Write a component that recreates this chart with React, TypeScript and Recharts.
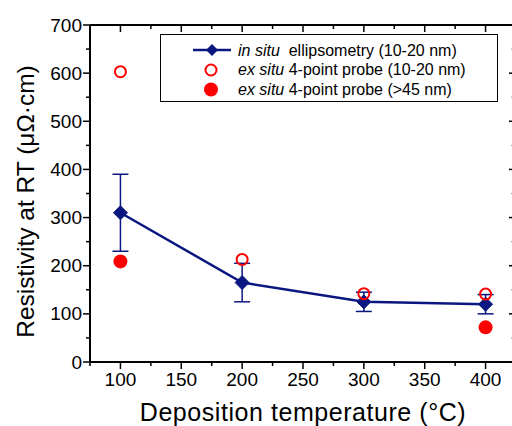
import React from "react";
import {
  ComposedChart,
  Line,
  Scatter,
  XAxis,
  YAxis,
  ErrorBar,
  Label,
} from "recharts";

// ---- data ----
const temps = [100, 200, 300, 400];
const ellipsometry = [310, 165, 125, 120];
const ellipsometryErr = [80, 40, 20, 20];
const probeThinTemps = [100, 200, 300, 400];
const probeThin = [603, 213, 142, 141];
const probeThickTemps = [100, 400];
const probeThick = [209, 72];

const xTicks = [75, 100, 125, 150, 175, 200, 225, 250, 275, 300, 325, 350, 375, 400, 425];
const yTicks = [0, 50, 100, 150, 200, 250, 300, 350, 400, 450, 500, 550, 600, 650, 700];

const legendLabels = [
  ["in situ", "  ellipsometry (10-20 nm)"],
  ["ex situ", " 4-point probe (10-20 nm)"],
  ["ex situ", " 4-point probe (>45 nm)"],
];

const lineData = temps.map((t, i) => ({ x: t, y: ellipsometry[i], err: ellipsometryErr[i] }));
const thinData = probeThinTemps.map((t, i) => ({ x: t, y: probeThin[i] }));
const thickData = probeThickTemps.map((t, i) => ({ x: t, y: probeThick[i] }));

const NAVY = "#0b1780";
const RED = "#ff0000";
const FONT = "'Liberation Sans', Arial, sans-serif";
const MAJOR = 7;
const MINOR = 4;

const BottomTick = (props: any) => {
  const { x, y, payload } = props;
  const v = payload.value;
  const major = v % 50 === 0;
  return (
    <g>
      <line x1={x} x2={x} y1={y} y2={y + (major ? MAJOR : MINOR)} stroke="#000" strokeWidth={1.5} />
      {major && v >= 100 && v <= 400 ? (
        <text x={x} y={y + 24} textAnchor="middle" fontSize={19} fontFamily={FONT} fill="#000">
          {v}
        </text>
      ) : null}
    </g>
  );
};

const TopTick = (props: any) => {
  const { x, y, payload } = props;
  const major = payload.value % 50 === 0;
  return <line x1={x} x2={x} y1={y} y2={y + (major ? MAJOR : MINOR)} stroke="#000" strokeWidth={1.5} />;
};

const LeftTick = (props: any) => {
  const { x, y, payload } = props;
  const v = payload.value;
  const major = v % 100 === 0;
  return (
    <g>
      <line x1={x - (major ? MAJOR : MINOR)} x2={x} y1={y} y2={y} stroke="#000" strokeWidth={1.5} />
      {major ? (
        <text x={x - 8} y={y + 6.5} textAnchor="end" fontSize={19} fontFamily={FONT} fill="#000">
          {v}
        </text>
      ) : null}
    </g>
  );
};

const RightTick = (props: any) => {
  const { x, y, payload } = props;
  const major = payload.value % 100 === 0;
  return (
    <line
      x1={x - (major ? MAJOR : 5)}
      x2={x}
      y1={y}
      y2={y}
      stroke={major ? "#000" : "#999"}
      strokeWidth={major ? 1.5 : 1}
    />
  );
};

const Diamond = (props: any) => {
  const { cx, cy } = props;
  if (cx == null || cy == null) return null;
  const s = 7;
  return (
    <path
      d={`M${cx},${cy - s} L${cx + s},${cy} L${cx},${cy + s} L${cx - s},${cy} Z`}
      fill={NAVY}
      stroke={NAVY}
    />
  );
};

const OpenCircle = (props: any) => {
  const { cx, cy } = props;
  return <circle cx={cx} cy={cy} r={5.5} fill="none" stroke={RED} strokeWidth={2} />;
};

const FilledCircle = (props: any) => {
  const { cx, cy } = props;
  return <circle cx={cx} cy={cy} r={7} fill={RED} />;
};

const LegendBox = () => {
  const rows = [55.5, 75, 94.5];
  const cyRows = [50, 70, 89.5];
  return (
    <svg
      width={512}
      height={426}
      style={{ position: "absolute", left: 0, top: 0, pointerEvents: "none" }}
    >
      <rect x={160.5} y={34.5} width={337} height={67} fill="#fff" stroke="#000" strokeWidth={1} />
      <line x1={193} x2={231} y1={cyRows[0]} y2={cyRows[0]} stroke={NAVY} strokeWidth={2.5} />
      <path
        d={`M212,${cyRows[0] - 6} L218,${cyRows[0]} L212,${cyRows[0] + 6} L206,${cyRows[0]} Z`}
        fill={NAVY}
      />
      <circle cx={211} cy={cyRows[1]} r={5.5} fill="none" stroke={RED} strokeWidth={2} />
      <circle cx={211} cy={cyRows[2]} r={7} fill={RED} />
      {legendLabels.map((l, i) => (
        <text
          key={i}
          x={238}
          y={rows[i]}
          fontSize={16}
          fontFamily={FONT}
          fill="#000"
          style={{ whiteSpace: "pre" }}
        >
          <tspan fontStyle="italic">{l[0]}</tspan>
          <tspan>{l[1]}</tspan>
        </text>
      ))}
    </svg>
  );
};

export default function App() {
  return (
    <div
      style={{
        position: "fixed",
        left: 0,
        top: 0,
        width: 512,
        height: 426,
        overflow: "hidden",
        background: "#fff",
      }}
    >
      <ComposedChart
        width={540}
        height={426}
        data={lineData}
        margin={{ top: 0, right: 0, bottom: 0, left: 0 }}
      >
        <XAxis
          xAxisId="bottom"
          type="number"
          dataKey="x"
          domain={[75, 425]}
          ticks={xTicks}
          interval={0}
          height={64}
          tickSize={0}
          tickMargin={0}
          tickLine={false}
          tick={<BottomTick />}
          axisLine={{ stroke: "#000", strokeWidth: 2 }}
          allowDataOverflow
        >
          <Label
            value="Deposition temperature (°C)"
            position="center"
            dy={18}
            style={{ fontSize: 25, fontFamily: FONT, fill: "#000", letterSpacing: 0.55 }}
          />
        </XAxis>
        <XAxis
          xAxisId="top"
          orientation="top"
          type="number"
          dataKey="x"
          domain={[75, 425]}
          ticks={xTicks}
          interval={0}
          height={25}
          tickSize={0}
          tickMargin={0}
          tickLine={false}
          tick={<TopTick />}
          axisLine={{ stroke: "#000", strokeWidth: 2 }}
          allowDataOverflow
        />
        <YAxis
          yAxisId="left"
          type="number"
          domain={[0, 700]}
          ticks={yTicks}
          interval={0}
          width={90}
          tickSize={0}
          tickMargin={0}
          tickLine={false}
          tick={<LeftTick />}
          axisLine={{ stroke: "#000", strokeWidth: 2 }}
          allowDataOverflow
        >
          <Label
            value="Resistivity at RT (μΩ·cm)"
            position="center"
            angle={-90}
            dx={-20}
            dy={8}
            style={{ fontSize: 24.5, fontFamily: FONT, fill: "#000", textAnchor: "middle" }}
          />
        </YAxis>
        <YAxis
          yAxisId="right"
          orientation="right"
          type="number"
          domain={[0, 700]}
          ticks={yTicks}
          interval={0}
          width={24}
          tickSize={0}
          tickMargin={0}
          tickLine={false}
          tick={<RightTick />}
          axisLine={{ stroke: "#000", strokeWidth: 2 }}
          allowDataOverflow
        />
        <Line
          xAxisId="bottom"
          yAxisId="left"
          type="linear"
          dataKey="y"
          stroke={NAVY}
          strokeWidth={2.5}
          dot={<Diamond />}
          activeDot={false}
          isAnimationActive={false}
        >
          <ErrorBar dataKey="err" direction="y" width={8} stroke={NAVY} strokeWidth={1.5} />
        </Line>
        <Scatter
          xAxisId="bottom"
          yAxisId="left"
          data={thinData}
          dataKey="y"
          shape={<OpenCircle />}
          isAnimationActive={false}
        />
        <Scatter
          xAxisId="bottom"
          yAxisId="left"
          data={thickData}
          dataKey="y"
          shape={<FilledCircle />}
          isAnimationActive={false}
        />
      </ComposedChart>
      <LegendBox />
    </div>
  );
}
